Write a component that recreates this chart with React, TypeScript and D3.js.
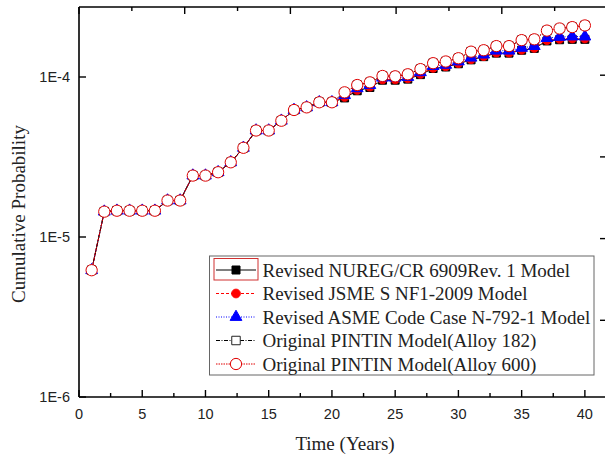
import React from "react";
import * as d3 from "d3";

const WIDTH = 605;
const HEIGHT = 455;
const M = { left: 79, top: 7, right: 606, bottom: 397 };

// years 1..40
const years = [
  1, 2, 3, 4, 5, 6, 7, 8, 9, 10, 11, 12, 13, 14, 15, 16, 17, 18, 19, 20,
  21, 22, 23, 24, 25, 26, 27, 28, 29, 30, 31, 32, 33, 34, 35, 36, 37, 38, 39, 40,
];

// common early part (years 1-20), identical for all models
const early = [
  6.2e-6, 1.44e-5, 1.46e-5, 1.46e-5, 1.46e-5, 1.46e-5, 1.69e-5, 1.69e-5, 2.42e-5, 2.42e-5,
  2.54e-5, 2.93e-5, 3.61e-5, 4.63e-5, 4.63e-5, 5.33e-5, 6.22e-5, 6.46e-5, 6.95e-5, 6.95e-5,
];

const nuregLate = [
  7.4e-5, 8.2e-5, 8.6e-5, 9.55e-5, 9.55e-5, 9.7e-5, 1.035e-4, 1.13e-4, 1.155e-4, 1.21e-4,
  1.28e-4, 1.34e-4, 1.41e-4, 1.41e-4, 1.47e-4, 1.51e-4, 1.68e-4, 1.71e-4, 1.72e-4, 1.72e-4,
];
const jsmeLate = [
  7.5e-5, 8.3e-5, 8.7e-5, 9.65e-5, 9.65e-5, 9.8e-5, 1.045e-4, 1.14e-4, 1.165e-4, 1.22e-4,
  1.29e-4, 1.35e-4, 1.42e-4, 1.42e-4, 1.48e-4, 1.52e-4, 1.7e-4, 1.73e-4, 1.74e-4, 1.74e-4,
];
const asmeLate = [
  7.7e-5, 8.5e-5, 8.9e-5, 9.9e-5, 9.9e-5, 1.0e-4, 1.07e-4, 1.17e-4, 1.19e-4, 1.25e-4,
  1.32e-4, 1.38e-4, 1.46e-4, 1.46e-4, 1.52e-4, 1.56e-4, 1.75e-4, 1.78e-4, 1.79e-4, 1.79e-4,
];
const alloy182Late = [
  8.0e-5, 8.9e-5, 9.26e-5, 1.015e-4, 1.01e-4, 1.04e-4, 1.12e-4, 1.22e-4, 1.25e-4, 1.31e-4,
  1.44e-4, 1.47e-4, 1.56e-4, 1.56e-4, 1.7e-4, 1.72e-4, 1.95e-4, 2.01e-4, 2.05e-4, 2.1e-4,
];
const alloy600Late = [
  8.02e-5, 8.91e-5, 9.26e-5, 1.015e-4, 1.01e-4, 1.04e-4, 1.12e-4, 1.22e-4, 1.25e-4, 1.31e-4,
  1.44e-4, 1.47e-4, 1.56e-4, 1.56e-4, 1.7e-4, 1.72e-4, 1.95e-4, 2.01e-4, 2.05e-4, 2.1e-4,
];

const xTicks = [0, 5, 10, 15, 20, 25, 30, 35, 40];
const yTicks = [1e-6, 1e-5, 1e-4];
const yTickLabels = ["1E-6", "1E-5", "1E-4"];

type Series = {
  name: string;
  values: number[];
  color: string;
  dash: string;
  symbol: d3.SymbolType;
  size: number;
  fill: string;
  stroke: string;
};

const series: Series[] = [
  { name: "Revised NUREG/CR 6909Rev. 1 Model", values: [...early, ...nuregLate], color: "#000", dash: "none", symbol: d3.symbolSquare, size: 64, fill: "#000", stroke: "#000" },
  { name: "Revised JSME S NF1-2009 Model", values: [...early, ...jsmeLate], color: "#ff0000", dash: "3,2", symbol: d3.symbolCircle, size: 60, fill: "#ff0000", stroke: "#ff0000" },
  { name: "Revised ASME Code Case N-792-1 Model", values: [...early, ...asmeLate], color: "#0000ff", dash: "1,1.5", symbol: d3.symbolTriangle, size: 60, fill: "#0000ff", stroke: "#0000ff" },
  { name: "Original PINTIN Model(Alloy 182)", values: [...early, ...alloy182Late], color: "#000", dash: "4,1.5,1,1.5", symbol: d3.symbolSquare, size: 72, fill: "#fff", stroke: "#222" },
  { name: "Original PINTIN Model(Alloy 600)", values: [...early, ...alloy600Late], color: "#e00000", dash: "1.5,1", symbol: d3.symbolCircle, size: 100, fill: "#fff", stroke: "#e00000" },
];

const x = d3.scaleLinear().domain([0, 41.67]).range([M.left, M.right]);
const y = d3.scaleLog().domain([1e-6, Math.pow(10, -3.5625)]).range([M.bottom, M.top]);
// secondary (unlabelled) scales for top and right tick marks
const xTop = d3.scaleLinear().domain([0, 5]).range([M.left, M.left + 528.5]);
const yRight = d3.scaleLinear().domain([0, 5]).range([402, -6.5]);

const SERIF = "'Liberation Serif', 'Times New Roman', serif";
const SANS = "'Liberation Sans', Arial, sans-serif";

function Marker({ s, cx, cy, size }: { s: Series; cx: number; cy: number; size?: number }) {
  const path = d3.symbol().type(s.symbol).size(size ?? s.size)();
  return (
    <path
      d={path || ""}
      transform={`translate(${cx},${cy})`}
      fill={s.fill}
      stroke={s.stroke}
      strokeWidth={1}
    />
  );
}

export default function App() {
  const line = d3
    .line<number>()
    .x((_, i) => x(years[i]))
    .y((v) => y(v));

  const minorX = d3.range(2.5, 41, 5);
  const topTicks = d3.range(0, 5.01, 0.5);
  const rightTicks = [1, 2, 3, 4];

  const legX = 209.5;
  const legY = 256;
  const rowH = 23.5;

  return (
    <div style={{ position: "absolute", left: 0, top: 0 }}>
      <svg width={WIDTH} height={HEIGHT} style={{ display: "block", background: "#fff" }}>
        {/* series */}
        {series.map((s) => (
          <g key={s.name}>
            <path d={line(s.values) || ""} fill="none" stroke={s.color} strokeWidth={1} strokeDasharray={s.dash} />
            {s.values.map((v, i) => (
              <Marker key={i} s={s} cx={x(years[i])} cy={y(v)} />
            ))}
          </g>
        ))}

        {/* frame */}
        <g stroke="#000" strokeWidth={1.6} fill="none">
          <line x1={M.left} x2={M.left} y1={M.top} y2={M.bottom} />
          <line x1={M.left} x2={WIDTH} y1={M.bottom} y2={M.bottom} />
          <line x1={M.left} x2={WIDTH} y1={M.top} y2={M.top} />
        </g>

        {/* ticks */}
        <g stroke="#000" strokeWidth={1.4}>
          {xTicks.map((t) => (
            <line key={t} x1={x(t)} x2={x(t)} y1={M.bottom} y2={M.bottom - 7} />
          ))}
          {minorX.map((t) => (
            <line key={"m" + t} x1={x(t)} x2={x(t)} y1={M.bottom} y2={M.bottom - 4} />
          ))}
          {topTicks.map((t, i) => (
            <line key={"t" + t} x1={xTop(t)} x2={xTop(t)} y1={M.top} y2={M.top + (i % 2 === 0 ? 7 : 4)} />
          ))}
          {yTicks.map((t) => (
            <line key={"y" + t} x1={M.left} x2={M.left + 7} y1={y(t)} y2={y(t)} />
          ))}
          {rightTicks.map((t) => (
            <line key={"r" + t} x1={WIDTH} x2={WIDTH - 5} y1={yRight(t)} y2={yRight(t)} />
          ))}
        </g>

        {/* tick labels */}
        <g fontFamily={SANS} fontSize={14.5} fill="#222">
          {xTicks.map((t) => (
            <text key={t} x={x(t)} y={419} textAnchor="middle">
              {t}
            </text>
          ))}
          {yTicks.map((t, i) => (
            <text key={t} x={70} y={y(t) + 5} textAnchor="end">
              {yTickLabels[i]}
            </text>
          ))}
        </g>

        {/* axis titles */}
        <text x={345} y={450} textAnchor="middle" fontFamily={SERIF} fontSize={19} fill="#222">
          Time (Years)
        </text>
        <text
          transform="translate(25,214) rotate(-90)"
          textAnchor="middle"
          fontFamily={SERIF}
          fontSize={19}
          fill="#222"
        >
          Cumulative Probability
        </text>

        {/* legend */}
        <g>
          <rect x={legX} y={legY} width={384.5} height={119} fill="#fff" stroke="#666" strokeWidth={1} />
          <rect x={214} y={258.5} width={44} height={21.5} fill="none" stroke="#d03030" strokeWidth={1} />
          {series.map((s, i) => {
            const cy = 270 + i * rowH;
            return (
              <g key={s.name}>
                <line x1={216} x2={256} y1={cy} y2={cy} stroke={s.color} strokeWidth={1} strokeDasharray={s.dash} />
                <Marker s={s} cx={236} cy={cy} />
                <text x={262.5} y={cy + 6.5} fontFamily={SERIF} fontSize={19} fill="#222">
                  {s.name}
                </text>
              </g>
            );
          })}
        </g>
      </svg>
    </div>
  );
}
